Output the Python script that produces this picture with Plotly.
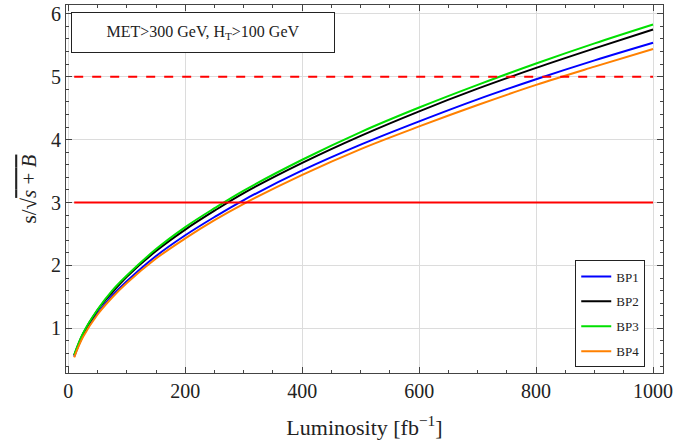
import plotly.graph_objects as go

lumi = [10, 25, 50, 75, 100, 150, 200, 250, 300, 400, 500, 600, 700, 800, 900, 1000]
bp1 = [0.55, 0.88, 1.24, 1.52, 1.75, 2.15, 2.48, 2.77, 3.04, 3.51, 3.92, 4.29, 4.64, 4.96, 5.26, 5.54]
bp2 = [0.57, 0.91, 1.29, 1.57, 1.82, 2.23, 2.57, 2.87, 3.15, 3.63, 4.06, 4.45, 4.81, 5.14, 5.45, 5.75]
bp3 = [0.58, 0.92, 1.30, 1.60, 1.84, 2.26, 2.61, 2.91, 3.19, 3.68, 4.12, 4.51, 4.87, 5.21, 5.53, 5.83]
bp4 = [0.54, 0.86, 1.22, 1.49, 1.72, 2.11, 2.43, 2.72, 2.98, 3.44, 3.85, 4.21, 4.55, 4.87, 5.16, 5.44]
names = ["BP1", "BP2", "BP3", "BP4"]
colors = ["#0000ff", "#000000", "#00e000", "#ff8000"]
thresholds = [3, 5]
line_x = [10, 1000]

FONT = "Liberation Serif"
fig = go.Figure()
for name, ys, c in zip(names, [bp1, bp2, bp3, bp4], colors):
    fig.add_trace(go.Scatter(x=lumi, y=ys, mode="lines", name=name, legendgroup=name,
                             line=dict(color=c, width=2, shape="spline")))
fig.add_trace(go.Scatter(x=line_x, y=[thresholds[1]] * 2, mode="lines", showlegend=False,
                         line=dict(color="#ff0000", width=2, dash="dash")))
fig.add_trace(go.Scatter(x=line_x, y=[thresholds[0]] * 2, mode="lines", showlegend=False,
                         line=dict(color="#ff0000", width=2)))

axis_common = dict(showline=True, linecolor="#444", linewidth=1, mirror="allticks",
                   ticks="inside", ticklen=6, tickcolor="#444", showgrid=True,
                   gridcolor="#dcdcdc", gridwidth=1, zeroline=False, automargin=False,
                   ticklabeloverflow="allow",
                   tickfont=dict(family=FONT, size=20, color="#222"))
fig.update_xaxes(range=[-4, 1017], tickvals=[0, 200, 400, 600, 800, 1000],
                 minor=dict(dtick=50, tick0=0, ticks="inside", ticklen=3, tickcolor="#444", showgrid=False),
                 title=dict(text="Luminosity [fb<sup>−1</sup>]", font=dict(family=FONT, size=22, color="#222"), standoff=18),
                 **axis_common)
fig.update_yaxes(range=[0.29, 6.14], tickvals=[1, 2, 3, 4, 5, 6],
                 minor=dict(dtick=0.2, tick0=0, ticks="inside", ticklen=3, tickcolor="#444", showgrid=False),
                 title=dict(text="s/√<span style='text-decoration:overline'><i>s</i> + <i>B</i></span>",
                            font=dict(family=FONT, size=21, color="#222"), standoff=8),
                 **axis_common)

fig.add_annotation(x=0.008, y=0.982, xref="paper", yref="paper", xanchor="left", yanchor="top",
                   text="MET>300 GeV, H<sub>T</sub>>100 GeV", showarrow=False,
                   font=dict(family=FONT, size=16, color="#222"),
                   bordercolor="#222", borderwidth=1, borderpad=10, bgcolor="white",
                   width=242, align="center")

fig.update_layout(width=673, height=440, margin=dict(l=66, r=10, t=5, b=67),
                  plot_bgcolor="white", paper_bgcolor="white",
                  legend=dict(x=0.853, y=0.015, xanchor="left", yanchor="bottom",
                              bordercolor="#222", borderwidth=1, bgcolor="white",
                              font=dict(family=FONT, size=13, color="#222"),
                              itemwidth=30, tracegroupgap=5))
fig.write_html("out.html", config={"displayModeBar": False},
               post_script="document.body.style.margin='0';")
